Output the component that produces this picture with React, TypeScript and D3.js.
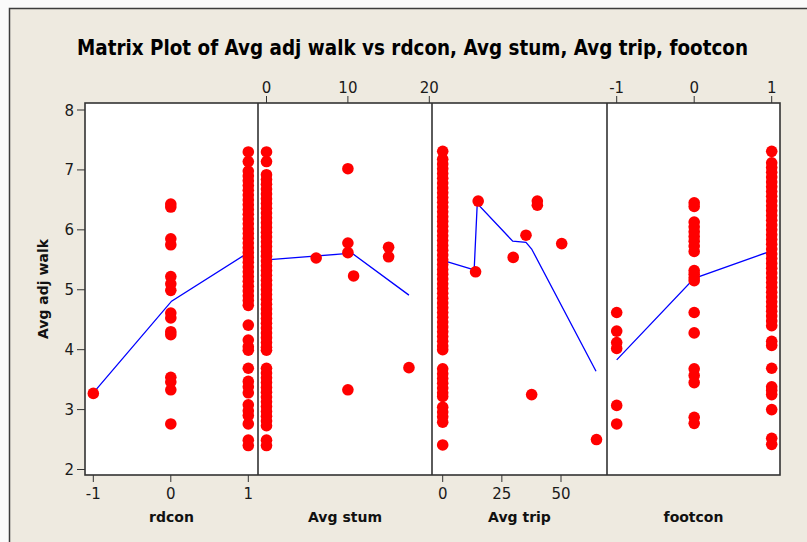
import React, { useLayoutEffect, useRef, useState } from "react";
import * as d3 from "d3";

// ---------- data ----------
const yTicks = [2, 3, 4, 5, 6, 7, 8];

const rdconTicks = [-1, 0, 1];
const stumTicks = [0, 10, 20];
const tripTicks = [0, 25, 50];
const footconTicks = [-1, 0, 1];

const rdconNeg1Y = [3.27];
const rdcon0Y = [6.43, 6.38, 5.85, 5.75, 5.22, 5.1, 4.99, 4.61, 4.53, 4.3, 4.25, 3.54, 3.46, 3.33, 2.76];
const rdcon1Y = [7.3, 7.14, 6.98, 6.9, 6.82, 6.74, 6.66, 6.58, 6.5, 6.42, 6.34, 6.26, 6.18, 6.1, 6.02, 5.94, 5.86, 5.78, 5.7, 5.62, 5.54, 5.46, 5.38, 5.3, 5.22, 5.14, 5.06, 4.98, 4.9, 4.82, 4.74, 4.41, 4.16, 4.05, 3.99, 3.69, 3.47, 3.38, 3.28, 3.08, 2.98, 2.9, 2.76, 2.49, 2.4];

const stum0Y = [7.3, 7.14, 6.92, 6.84, 6.76, 6.68, 6.6, 6.52, 6.44, 6.36, 6.28, 6.2, 6.12, 6.04, 5.96, 5.88, 5.8, 5.72, 5.64, 5.56, 5.48, 5.4, 5.32, 5.24, 5.16, 5.08, 5.0, 4.92, 4.84, 4.76, 4.68, 4.6, 4.52, 4.44, 4.36, 4.28, 4.2, 4.12, 4.04, 3.99, 3.69, 3.61, 3.53, 3.45, 3.37, 3.29, 3.21, 3.13, 3.05, 2.97, 2.89, 2.81, 2.73, 2.49, 2.4];
const stumOtherX = [6.1, 10, 10, 10, 10.7, 15, 15, 10, 17.5];
const stumOtherY = [5.53, 7.02, 5.78, 5.62, 5.23, 5.71, 5.55, 3.33, 3.7];

const trip0Y = [7.31, 7.18, 7.1, 7.02, 6.94, 6.86, 6.78, 6.7, 6.62, 6.54, 6.46, 6.38, 6.3, 6.22, 6.14, 6.06, 5.98, 5.9, 5.82, 5.74, 5.66, 5.58, 5.5, 5.42, 5.34, 5.26, 5.18, 5.1, 5.02, 4.94, 4.86, 4.78, 4.7, 4.62, 4.54, 4.46, 4.38, 4.3, 4.22, 4.14, 4.06, 4.0, 3.68, 3.6, 3.52, 3.44, 3.36, 3.28, 3.22, 3.04, 2.96, 2.88, 2.79, 2.41];
const tripOtherX = [13.9, 15, 29.8, 35.2, 40, 40, 50.3, 37.6, 65];
const tripOtherY = [5.3, 6.48, 5.54, 5.91, 6.48, 6.41, 5.77, 3.25, 2.5];

const footNeg1Y = [4.62, 4.31, 4.12, 4.02, 3.07, 2.76];
const foot0Y = [6.45, 6.39, 6.13, 6.05, 5.97, 5.89, 5.81, 5.73, 5.64, 5.32, 5.26, 5.2, 5.15, 4.62, 4.28, 3.68, 3.57, 3.45, 2.87, 2.77];
const foot1Y = [7.31, 7.12, 7.04, 6.96, 6.88, 6.8, 6.72, 6.64, 6.56, 6.48, 6.4, 6.32, 6.24, 6.16, 6.08, 6.0, 5.92, 5.84, 5.76, 5.68, 5.6, 5.52, 5.44, 5.36, 5.28, 5.2, 5.12, 5.04, 4.96, 4.88, 4.8, 4.72, 4.64, 4.56, 4.48, 4.4, 4.14, 4.07, 3.69, 3.38, 3.32, 3.25, 3.0, 2.52, 2.42];

// smoother lines
const rdconLineX = [-1, 0.01, 1];
const rdconLineY = [3.28, 4.81, 5.62];
const stumLineX = [0, 10.5, 17.5];
const stumLineY = [5.5, 5.61, 4.91];
const tripLineX = [0, 13.3, 14.6, 29.6, 35.2, 37.6, 64.8];
const tripLineY = [5.49, 5.33, 6.44, 5.81, 5.79, 5.68, 3.64];
const footLineX = [-1, 0, 1];
const footLineY = [3.83, 5.19, 5.65];

const title = "Matrix Plot of Avg adj walk vs rdcon, Avg stum, Avg trip, footcon";
const yLabel = "Avg adj walk";

type Pt = [number, number];
const col = (x: number, ys: number[]): Pt[] => ys.map((v) => [x, v] as Pt);
const zip = (xs: number[], ys: number[]): Pt[] => xs.map((v, i) => [v, ys[i]] as Pt);

export default function App() {
  const W = 807;
  const H = 542;
  const top = 103;
  const bottom = 475;
  const y = d3.scaleLinear().domain([2, 8]).range([469.5, 110]);
  const font = "'DejaVu Sans', Verdana, sans-serif";
  const titleRef = useRef<SVGTextElement>(null);
  const [titleScale, setTitleScale] = useState(0.76);
  const titleWidth = 671;
  const titleCx = 412.5;

  useLayoutEffect(() => {
    if (titleRef.current) {
      const len = titleRef.current.getComputedTextLength();
      if (len > 0) setTitleScale(titleWidth / len);
    }
  }, []);

  const panels = [
    {
      label: "rdcon", x0: 85, x1: 258, axis: "bottom", ticks: rdconTicks,
      x: d3.scaleLinear().domain([-1, 1]).range([93.3, 248.3]),
      pts: [...col(-1, rdconNeg1Y), ...col(0, rdcon0Y), ...col(1, rdcon1Y)],
      line: zip(rdconLineX, rdconLineY),
    },
    {
      label: "Avg stum", x0: 258, x1: 432, axis: "top", ticks: stumTicks,
      x: d3.scaleLinear().domain([0, 20]).range([266.5, 429.3]),
      pts: [...col(0, stum0Y), ...zip(stumOtherX, stumOtherY)],
      line: zip(stumLineX, stumLineY),
    },
    {
      label: "Avg trip", x0: 432, x1: 607, axis: "bottom", ticks: tripTicks,
      x: d3.scaleLinear().domain([0, 50]).range([442.7, 561]),
      pts: [...col(0, trip0Y), ...zip(tripOtherX, tripOtherY)],
      line: zip(tripLineX, tripLineY),
    },
    {
      label: "footcon", x0: 607, x1: 780, axis: "top", ticks: footconTicks,
      x: d3.scaleLinear().domain([-1, 1]).range([616.7, 771.7]),
      pts: [...col(-1, footNeg1Y), ...col(0, foot0Y), ...col(1, foot1Y)],
      line: zip(footLineX, footLineY),
    },
  ];

  return (
    <svg width={W} height={H} style={{ position: "absolute", left: 0, top: 0, display: "block" }}>
      <rect x={0} y={0} width={W} height={H} fill="#fafafa" />
      <rect x={9.5} y={8.5} width={W + 20} height={H + 20} fill="#eeeae0" stroke="#3c3c3c" strokeWidth={1.5} />
      <g transform={`translate(${titleCx},55) scale(${titleScale},1)`}>
        <text ref={titleRef} x={0} y={0} textAnchor="middle" fontFamily={font} fontWeight="bold" fontSize={21}
          fill="#000">{title}</text>
      </g>

      {/* y axis */}
      {yTicks.map((t) => (
        <g key={t}>
          <line x1={77} x2={85} y1={y(t)} y2={y(t)} stroke="#333" strokeWidth={1} />
          <text x={74} y={y(t) + 5.5} textAnchor="end" fontFamily={font} fontSize={15} fill="#1a1a1a">{t}</text>
        </g>
      ))}
      <text transform={`translate(48,${(top + bottom) / 2}) rotate(-90)`} textAnchor="middle"
        fontFamily={font} fontWeight="bold" fontSize={14} fill="#111">{yLabel}</text>

      {panels.map((p, i) => {
        const lineGen = d3.line<Pt>().x((d) => p.x(d[0])).y((d) => y(d[1]));
        return (
          <g key={i}>
            <rect x={p.x0} y={top} width={p.x1 - p.x0} height={bottom - top} fill="#fff" />
            <clipPath id={`clip${i}`}>
              <rect x={p.x0} y={top} width={p.x1 - p.x0} height={bottom - top} />
            </clipPath>
            <g clipPath={`url(#clip${i})`}>
              <path d={lineGen(p.line) || ""} fill="none" stroke="#0000ff" strokeWidth={1.3} />
              {p.pts.map((d, j) => (
                <circle key={j} cx={p.x(d[0])} cy={y(d[1])} r={5.8} fill="#ff0000" />
              ))}
            </g>
            {p.ticks.map((t) => {
              const tx = p.x(t);
              return p.axis === "bottom" ? (
                <g key={t}>
                  <line x1={tx} x2={tx} y1={bottom} y2={bottom + 7} stroke="#333" />
                  <text x={tx} y={499} textAnchor="middle" fontFamily={font} fontSize={15} fill="#1a1a1a">{t}</text>
                </g>
              ) : (
                <g key={t}>
                  <line x1={tx} x2={tx} y1={top} y2={top - 7} stroke="#333" />
                  <text x={tx} y={93} textAnchor="middle" fontFamily={font} fontSize={15} fill="#1a1a1a">{t}</text>
                </g>
              );
            })}
            <text x={(p.x0 + p.x1) / 2} y={522} textAnchor="middle" fontFamily={font} fontWeight="bold"
              fontSize={14} fill="#111">{p.label}</text>
          </g>
        );
      })}
      <rect x={85} y={top} width={780 - 85} height={bottom - top} fill="none" stroke="#333" strokeWidth={1.6} />
      {[258, 432, 607].map((xv) => (
        <line key={xv} x1={xv} x2={xv} y1={top} y2={bottom} stroke="#333" strokeWidth={1.6} />
      ))}
    </svg>
  );
}
